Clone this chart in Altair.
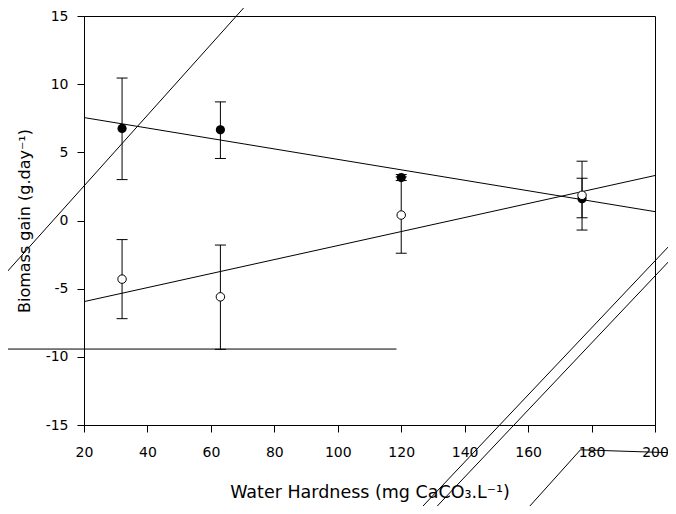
import altair as alt
import pandas as pd

# ---- data ----
hardness = [32, 63, 120, 177]
filled_mean = [6.75, 6.65, 3.15, 1.6]
filled_lo = [3.0, 4.55, 2.93, 0.2]
filled_hi = [10.45, 8.7, 3.37, 3.1]
open_mean = [-4.3, -5.6, 0.4, 1.85]
open_lo = [-7.2, -9.45, -2.4, -0.7]
open_hi = [-1.4, -1.8, 3.2, 4.35]

fit_x = [20, 200]
filled_fit = [7.55, 0.65]
open_fit = [-5.95, 3.3]

# stray line segments present in the reference (data units)
stray_id = ["a", "a", "b", "b", "c", "c", "d", "d", "e", "e", "e"]
stray_x = [-7.06, 71.9, -7.06, 118.5, 124.6, 205.7, 129.1, 205.7, 158.4, 176.5, 205.7]
stray_y = [-4.49, 16.0, -9.43, -9.43, -21.5, -1.56, -21.5, -2.67, -21.5, -16.82, -17.04]

x_ticks = [20, 40, 60, 80, 100, 120, 140, 160, 180, 200]
y_ticks = [-15, -10, -5, 0, 5, 10, 15]

FONT = "DejaVu Sans"

pts = pd.DataFrame({
    "x": hardness * 2,
    "y": filled_mean + open_mean,
    "lo": filled_lo + open_lo,
    "hi": filled_hi + open_hi,
    "grp": ["filled"] * 4 + ["open"] * 4,
})
fits = pd.DataFrame({
    "x": fit_x * 2,
    "y": filled_fit + open_fit,
    "grp": ["filled"] * 2 + ["open"] * 2,
})
stray = pd.DataFrame({"x": stray_x, "y": stray_y, "id": stray_id,
                      "o": list(range(len(stray_x)))})

hyphen_labels = "datum.value < 0 ? '-' + abs(datum.value) : '' + datum.value"

xs = alt.Scale(domain=[20, 200], nice=False, zero=False)
ys = alt.Scale(domain=[-15, 15], nice=False, zero=False)
xaxis = alt.Axis(values=x_ticks, title="Water Hardness (mg CaCO\u2083.L\u207b\u00b9)",
                 grid=False, tickSize=7, labelPadding=13, titlePadding=24,
                 labelFlush=False, titleFontSize=17.5, labelExpr=hyphen_labels)
yaxis = alt.Axis(values=y_ticks, title="Biomass gain (g.day\u207b\u00b9)",
                 grid=False, tickSize=7, labelPadding=9, titlePadding=13,
                 labelFlush=False, titleFontSize=16, labelExpr=hyphen_labels)


def X(f):
    return alt.X(f, type="quantitative", scale=xs, axis=xaxis)


def Y(f):
    return alt.Y(f, type="quantitative", scale=ys, axis=yaxis)


fit_layer = alt.Chart(fits).mark_line(color="black", strokeWidth=1, clip=False).encode(
    x=X("x"), y=Y("y"), detail="grp:N")

stray_layer = alt.Chart(stray).mark_line(color="black", strokeWidth=1, clip=False).encode(
    x=X("x"), y=Y("y"), detail="id:N", order="o:Q")

rules = alt.Chart(pts).mark_rule(color="black", strokeWidth=1).encode(
    x=X("x"), y=Y("lo"), y2="hi:Q")
cap_hi = alt.Chart(pts).mark_tick(color="black", orient="horizontal", size=11,
                                  thickness=1, opacity=1).encode(x=X("x"), y=Y("hi"))
cap_lo = alt.Chart(pts).mark_tick(color="black", orient="horizontal", size=11,
                                  thickness=1, opacity=1).encode(x=X("x"), y=Y("lo"))

filled_pts = alt.Chart(pts).transform_filter(alt.datum.grp == "filled").mark_point(
    shape="circle", filled=True, color="black", size=85, opacity=1).encode(
    x=X("x"), y=Y("y"))
open_pts = alt.Chart(pts).transform_filter(alt.datum.grp == "open").mark_point(
    shape="circle", filled=True, fill="white", stroke="black", strokeWidth=1,
    size=72, opacity=1).encode(x=X("x"), y=Y("y"))

chart = alt.layer(fit_layer, stray_layer, rules, cap_hi, cap_lo, filled_pts, open_pts).properties(
    width=571, height=409,
    background="white",
    autosize=alt.AutoSizeParams(type="none"),
    padding={"left": 76, "top": 8, "right": 13, "bottom": 81},
).configure_view(stroke="black", strokeWidth=1).configure_axis(
    domainColor="black", tickColor="black", labelColor="black", titleColor="black",
    labelFont=FONT, titleFont=FONT, labelFontSize=14,
    titleFontWeight="normal", domainWidth=1, tickWidth=1,
)

chart.save("out.html", embed_options={"renderer": "svg", "actions": False})
